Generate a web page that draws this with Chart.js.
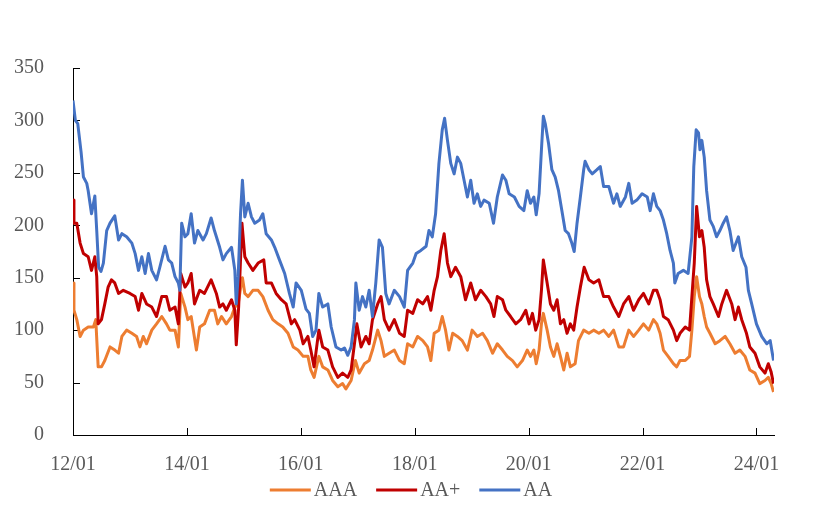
<!DOCTYPE html>
<html><head><meta charset="utf-8">
<script src="https://cdn.jsdelivr.net/npm/chart.js@4/dist/chart.umd.min.js"></script>
<style>html,body{margin:0;padding:0;background:#fff}</style>
</head><body>
<canvas id="c" width="817" height="519"></canvas>
<script>
// Categories / labels
const seriesNames = ['AAA', 'AA+', 'AA'];
const seriesColors = ['#ED7D31', '#C00000', '#4472C4'];
const tickMonths = [0, 24, 48, 72, 96, 120, 144];          // months since 2012/01
const tickLabels = ['12/01', '14/01', '16/01', '18/01', '20/01', '22/01', '24/01'];
const yTicks = [0, 50, 100, 150, 200, 250, 300, 350];

// AAA (orange)
const monthsAAA = [0,0.2,0.8,1.5,2.2,3.2,4.3,4.8,5.3,6.0,6.7,7.8,8.8,9.6,10.3,11.3,12.4,13.4,14.1,14.8,15.5,16.6,17.6,18.7,19.7,20.4,21.5,22.2,22.7,23.6,24.2,24.9,26.0,26.7,27.7,28.8,29.8,30.5,31.3,32.3,33.4,34.1,34.8,35.3,35.7,36.2,36.9,37.9,39.0,40.0,41.1,42.1,43.2,44.2,45.3,46.4,47.4,48.5,49.5,50.1,50.8,51.8,52.6,53.7,54.7,55.8,56.8,57.5,58.6,59.5,60.3,61.4,62.4,63.1,64.2,64.9,65.6,66.6,67.7,68.8,69.8,70.5,71.6,72.6,73.7,74.7,75.4,76.1,77.1,77.8,78.5,79.2,80.0,81.0,82.0,83.1,84.1,85.2,86.3,87.3,88.4,89.4,90.5,91.5,92.6,93.6,94.7,95.7,96.4,97.1,97.6,98.2,98.7,99.1,99.9,100.6,101.3,102.0,102.7,103.4,104.1,104.8,105.8,106.5,107.6,108.7,109.7,110.8,111.8,112.9,113.9,115.0,116.0,117.1,118.1,119.2,120.2,121.3,122.3,123.0,123.7,124.4,125.4,126.5,127.2,127.9,129.0,129.9,130.4,130.9,131.4,132.0,132.5,133.0,133.5,134.2,135.3,136.3,137.4,138.4,139.5,140.5,141.6,142.6,143.7,144.7,145.8,146.5,147.1,147.6];
const valuesAAA = [145,119,110,94,100,103,103,110,65,65,71,84,81,78,94,100,97,94,84,94,87,100,106,113,106,100,100,84,135,122,110,113,81,103,106,119,119,106,113,106,113,122,125,140,150,135,132,138,138,132,119,110,106,103,97,84,81,75,75,62,55,75,65,62,52,46,49,44,52,71,59,68,71,81,100,90,75,78,81,71,68,87,84,94,90,84,71,97,100,113,100,81,97,94,90,81,100,94,97,90,78,87,81,75,71,65,71,81,75,81,68,81,106,116,100,84,75,87,75,62,78,65,68,90,100,97,100,97,100,94,100,84,84,100,94,100,106,100,110,106,97,81,75,68,65,71,71,75,100,132,151,132,125,113,103,97,87,90,94,87,78,81,75,62,59,49,52,55,49,41];

// AA+ (dark red)
const monthsAAp = [0,0.2,0.8,1.5,2.2,3.2,3.9,4.6,5.0,5.3,6.0,6.7,7.4,8.1,8.8,9.6,10.6,12.0,13.1,13.8,14.5,15.5,16.6,17.6,18.7,19.7,20.4,21.5,22.2,22.7,23.6,24.2,24.9,25.6,26.7,27.7,29.1,30.2,30.9,31.6,32.3,33.4,34.1,34.4,34.9,35.6,36.2,36.9,37.9,39.0,40.2,40.7,41.8,42.8,43.9,44.9,46.0,46.7,47.8,48.5,49.5,50.1,50.8,51.8,52.6,53.7,54.7,55.8,56.8,57.9,58.6,59.3,59.8,60.7,61.7,62.4,63.1,64.2,64.9,65.6,66.6,67.7,68.8,69.8,70.5,71.6,72.6,73.7,74.7,75.4,76.1,76.8,77.5,78.2,78.9,79.6,80.6,81.7,82.7,83.8,84.8,85.9,87.0,88.0,88.7,89.4,90.5,91.2,92.2,93.3,94.3,95.4,96.1,96.8,97.5,98.2,98.7,99.1,99.9,100.6,101.3,102.0,102.7,103.4,104.1,104.8,105.5,106.2,106.9,107.7,108.7,109.7,110.8,111.8,112.9,113.9,115.0,116.0,117.1,118.1,119.2,120.2,121.3,122.3,123.0,123.7,124.4,125.4,126.5,127.2,127.9,129.0,129.9,130.4,130.9,131.4,132.0,132.5,133.0,133.5,134.2,134.9,136.0,136.7,137.7,138.8,139.5,140.2,140.9,141.9,142.6,143.7,144.7,145.8,146.5,147.1,147.6];
const valuesAAp = [224,202,202,183,173,170,157,170,151,106,110,125,141,148,145,135,138,135,132,119,135,125,122,113,132,132,119,122,106,154,141,145,154,125,138,135,148,135,122,125,119,129,119,86,122,202,170,164,157,164,167,145,145,135,129,125,106,110,100,87,94,81,65,100,84,81,65,55,59,55,62,87,106,84,94,87,110,125,132,110,100,110,97,94,119,116,129,125,132,119,138,151,176,192,164,151,160,151,129,145,129,138,132,125,113,132,129,119,113,106,110,119,106,116,100,110,138,167,145,125,119,129,106,110,97,106,100,122,141,160,148,145,148,132,132,122,113,125,132,119,129,135,125,138,138,129,113,110,100,90,97,103,100,132,164,218,189,195,179,148,132,125,113,125,138,125,110,122,110,97,84,78,65,59,68,60,49];

// AA (blue)
const monthsAA = [0,0.5,1.0,1.7,2.2,2.9,3.2,3.9,4.6,5.0,5.4,5.9,6.4,7.1,7.8,8.8,9.6,10.3,11.3,12.4,13.1,13.8,14.5,15.2,15.9,16.6,17.6,18.3,19.4,20.1,20.8,21.5,22.2,22.5,22.9,23.6,24.2,24.9,25.6,26.3,27.4,28.1,29.1,29.8,30.9,31.6,32.3,33.4,34.1,34.4,34.8,35.3,35.7,36.2,36.9,37.6,38.3,39.3,40.0,40.7,41.8,42.5,43.5,44.6,45.6,46.4,47.0,48.1,49.1,49.8,50.5,51.2,51.8,52.6,53.7,54.4,55.4,56.5,57.2,57.9,58.6,59.3,59.6,60.3,61.0,61.7,62.4,63.1,63.8,64.5,65.2,65.9,66.6,67.7,68.8,69.8,70.5,71.6,72.3,73.3,74.4,75.0,75.7,76.4,77.1,77.8,78.3,78.9,79.6,80.3,81.0,81.7,82.4,83.1,83.8,84.5,85.2,85.9,86.6,87.7,88.6,89.4,90.5,91.2,91.9,93.0,94.0,95.0,95.7,96.4,97.1,97.6,98.2,98.7,99.1,99.5,100.2,100.9,101.6,102.3,103.0,103.7,104.4,105.1,105.6,106.2,106.9,107.6,107.9,108.7,109.4,110.4,111.1,111.8,112.9,113.9,114.6,115.3,116.4,117.1,117.8,118.8,119.9,121.0,121.6,122.3,123.0,123.7,124.4,125.1,125.8,126.5,126.8,127.5,128.6,129.6,130.4,130.8,131.3,131.8,132.1,132.5,133.0,133.5,134.2,134.9,135.6,136.3,137.0,137.7,138.4,139.1,140.2,140.9,141.8,142.3,143.0,144.0,145.1,146.2,146.9,147.6];
const valuesAA = [319,300,297,270,246,240,233,211,228,195,160,156,164,195,202,209,186,192,189,183,173,157,170,154,173,157,148,160,180,167,164,151,145,138,202,189,192,211,183,195,186,192,207,195,179,167,173,179,157,125,151,211,243,208,221,208,202,205,211,192,186,179,167,154,135,122,145,138,120,116,94,100,135,122,125,103,84,81,83,76,84,110,145,119,132,122,138,113,145,186,179,135,125,138,132,122,157,164,173,176,180,195,189,211,259,291,302,281,259,249,265,259,243,227,243,221,230,218,224,221,202,227,248,243,230,227,218,214,233,221,227,210,230,272,304,297,278,253,246,233,214,195,192,183,175,202,227,253,261,253,249,253,256,237,237,221,230,218,227,240,221,224,230,227,214,230,218,214,205,192,176,164,145,154,157,154,189,256,291,288,272,281,265,233,205,199,189,195,202,208,195,176,189,170,160,138,125,106,94,87,90,71];

const pts = (ms, vs) => ms.map((m, i) => ({x: m, y: vs[i]}));
const FONT = '"Liberation Serif", "Times New Roman", serif';
const TXT = '#595959';

const innerTicks = {
  id: 'innerTicks',
  beforeDatasetsDraw(chart) {
    const {ctx, chartArea: a, scales: {x, y}} = chart;
    ctx.save();
    ctx.strokeStyle = '#000';
    ctx.lineWidth = 1;
    ctx.beginPath();
    yTicks.forEach(v => {
      const py = Math.round(y.getPixelForValue(v)) + 0.5;
      ctx.moveTo(a.left, py); ctx.lineTo(a.left + 7, py);
    });
    tickMonths.forEach(m => {
      if (m === 0) return;
      const px = Math.round(x.getPixelForValue(m)) + 0.5;
      ctx.moveTo(px, a.bottom); ctx.lineTo(px, a.bottom - 7);
    });
    ctx.stroke();
    ctx.restore();
  }
};

const bottomLegend = {
  id: 'bottomLegend',
  afterDraw(chart) {
    const ctx = chart.ctx;
    ctx.save();
    ctx.font = '20px ' + FONT;
    const lineW = 41, gapText = 3, gapItem = 19;
    const items = seriesNames.map((n, i) => ({n, c: seriesColors[i], w: ctx.measureText(n).width}));
    const total = items.reduce((s, it) => s + lineW + gapText + it.w, 0) + gapItem * (items.length - 1);
    let x = 411 - total / 2;
    const yc = 490;
    ctx.textBaseline = 'middle';
    items.forEach(it => {
      ctx.strokeStyle = it.c;
      ctx.lineWidth = 3;
      ctx.beginPath(); ctx.moveTo(x, yc); ctx.lineTo(x + lineW, yc); ctx.stroke();
      x += lineW + gapText;
      ctx.fillStyle = TXT;
      ctx.fillText(it.n, x, yc + 1);
      x += it.w + gapItem;
    });
    ctx.restore();
  }
};

new Chart(document.getElementById('c'), {
  type: 'line',
  data: {
    datasets: [
      {label: seriesNames[0], data: pts(monthsAAA, valuesAAA), borderColor: seriesColors[0], backgroundColor: seriesColors[0], order: 2},
      {label: seriesNames[1], data: pts(monthsAAp, valuesAAp), borderColor: seriesColors[1], backgroundColor: seriesColors[1], order: 1},
      {label: seriesNames[2], data: pts(monthsAA, valuesAA), borderColor: seriesColors[2], backgroundColor: seriesColors[2], order: 0}
    ]
  },
  options: {
    responsive: false,
    animation: false,
    devicePixelRatio: 1,
    parsing: false,
    elements: {line: {borderWidth: 3, tension: 0, borderJoinStyle: 'round'}, point: {radius: 0}},
    layout: {padding: {left: 0, right: 43, top: 68, bottom: 0}},
    plugins: {legend: {display: false}, tooltip: {enabled: false}},
    scales: {
      x: {
        type: 'linear', min: 0, max: 147.7,
        grid: {display: false},
        border: {display: true, color: '#000', width: 1},
        afterBuildTicks: s => { s.ticks = tickMonths.map(v => ({value: v})); },
        afterFit: s => { s.height = 84; },
        ticks: {
          autoSkip: false, maxRotation: 0, padding: 10,
          color: TXT, font: {family: FONT, size: 20},
          callback: v => tickLabels[tickMonths.indexOf(v)]
        }
      },
      y: {
        min: 0, max: 350,
        grid: {display: false},
        border: {display: true, color: '#000', width: 1},
        afterBuildTicks: s => { s.ticks = yTicks.map(v => ({value: v})); },
        afterFit: s => { s.width = 73; },
        ticks: {padding: 21, color: TXT, font: {family: FONT, size: 20}}
      }
    }
  },
  plugins: [innerTicks, bottomLegend]
});
</script>
</body></html>
